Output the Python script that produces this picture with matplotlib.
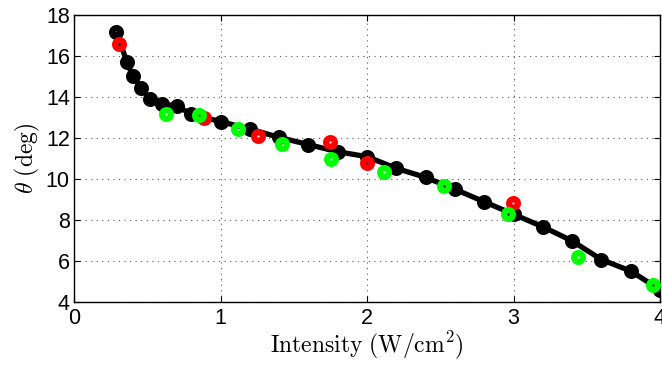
import matplotlib
matplotlib.use("Agg")
import matplotlib.pyplot as plt

# ---- data ----
black_x = [0.29, 0.36, 0.40, 0.46, 0.52, 0.60, 0.70, 0.80, 1.0, 1.2, 1.4, 1.6, 1.8, 2.0,
           2.2, 2.4, 2.6, 2.8, 3.0, 3.2, 3.4, 3.6, 3.8, 4.0]
black_y = [17.19, 15.72, 15.04, 14.42, 13.90, 13.66, 13.56, 13.17, 12.80, 12.44, 12.03,
           11.68, 11.33, 11.09, 10.52, 10.08, 9.50, 8.89, 8.28, 7.67, 6.98, 6.07, 5.51, 4.6]
red_x = [0.31, 0.887, 1.254, 1.747, 1.998, 2.995]
red_y = [16.57, 12.96, 12.10, 11.82, 10.77, 8.84]
green_x = [0.628, 0.855, 1.117, 1.422, 1.752, 2.118, 2.526, 2.96, 3.437, 3.952]
green_y = [13.16, 13.12, 12.44, 11.71, 10.99, 10.36, 9.66, 8.28, 6.18, 4.85]

xticks = [0, 1, 2, 3, 4]
yticks = [4, 6, 8, 10, 12, 14, 16, 18]

plt.rcParams['mathtext.fontset'] = 'cm'

fig = plt.figure(figsize=(6.62, 3.65), dpi=100)
ax = fig.add_axes([74 / 662, 1 - 302 / 365, (660 - 74) / 662, (302 - 15) / 365])

ax.plot(black_x, black_y, color='black', lw=3.8, solid_capstyle='butt', zorder=3)
mk = dict(marker='o', ms=6.3, mew=4.5, mfc='none', ls='none')
ax.plot(black_x, black_y, mec='black', zorder=4, **mk)
ax.plot(red_x, red_y, mec=(1, 0, 0), zorder=5, **mk)
ax.plot(green_x, green_y, mec=(0, 1, 0), zorder=6, **mk)

ax.set_xlim(0, 4)
ax.set_ylim(4, 18)
ax.set_xticks(xticks)
ax.set_yticks(yticks)
tick_font = dict(family='Liberation Sans', size=15.5)
ax.set_xticklabels([str(t) for t in xticks], **tick_font)
ax.set_yticklabels([str(t) for t in yticks], **tick_font)
ax.tick_params(axis='x', pad=4)
ax.tick_params(axis='y', pad=3)
ax.tick_params(direction='in', length=4, width=0.8, top=True, right=True)
ax.grid(True, linestyle=(0, (1, 4)), color='#555555', linewidth=0.8)
for s in ax.spines.values():
    s.set_linewidth(1.0)

ax.set_xlabel(r'$\mathrm{Intensity\ (W/cm^2)}$', fontsize=17, labelpad=1)
ax.set_ylabel(r'$\theta\ \mathrm{(deg)}$', fontsize=17, labelpad=3)

fig.savefig('out.png', dpi=100)
